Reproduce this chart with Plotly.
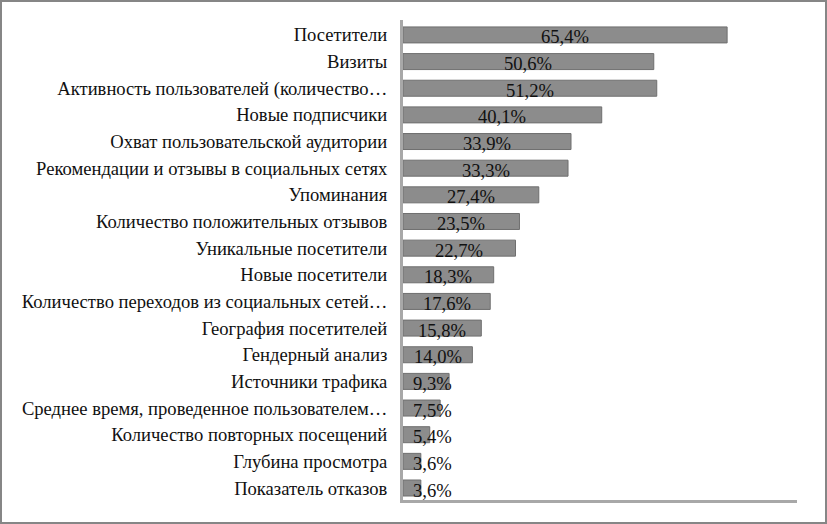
import plotly.graph_objects as go

# data, top to bottom
categories = [
    "Посетители",
    "Визиты",
    "Активность пользователей (количество…",
    "Новые подписчики",
    "Охват пользовательской аудитории",
    "Рекомендации и отзывы в социальных сетях",
    "Упоминания",
    "Количество положительных отзывов",
    "Уникальные посетители",
    "Новые посетители",
    "Количество переходов из социальных сетей…",
    "География посетителей",
    "Гендерный анализ",
    "Источники трафика",
    "Среднее время, проведенное пользователем…",
    "Количество повторных посещений",
    "Глубина просмотра",
    "Показатель отказов",
]
shares = [65.4, 50.6, 51.2, 40.1, 33.9, 33.3, 27.4, 23.5, 22.7, 18.3,
          17.6, 15.8, 14.0, 9.3, 7.5, 5.4, 3.6, 3.6]
share_labels = ["65,4%", "50,6%", "51,2%", "40,1%", "33,9%", "33,3%", "27,4%",
                "23,5%", "22,7%", "18,3%", "17,6%", "15,8%", "14,0%", "9,3%",
                "7,5%", "5,4%", "3,6%", "3,6%"]

FONT = "Liberation Serif, 'Times New Roman', 'DejaVu Serif', serif"
W, H = 827, 524
L, R, T, B = 403, 30, 20, 24

ypos = list(range(len(categories)))

fig = go.Figure()
fig.add_trace(go.Bar(
    x=shares,
    y=ypos,
    orientation="h",
    width=0.6,
    marker=dict(color="#8c8c8c", line=dict(color="#6f6f6f", width=1)),
    hoverinfo="skip",
))

# value labels: centred in the bar, but kept clear of the axis for short bars
for i, (v, lab) in enumerate(zip(shares, share_labels)):
    fig.add_annotation(
        x=max(v / 2, 6.0), y=i, text=lab, showarrow=False,
        xref="x", yref="y", yshift=-2,
        font=dict(family=FONT, size=18.6, color="#111111"),
    )

fig.update_xaxes(
    range=[0, 79.5], showgrid=False, showticklabels=False, zeroline=False,
    showline=True, linecolor="#a8a8a8", linewidth=3, ticks="",
)
fig.update_yaxes(
    tickvals=ypos, ticktext=categories,
    range=[17.45, -0.56],
    showgrid=False, zeroline=False, showline=True, linecolor="#a8a8a8",
    linewidth=3, ticks="", ticklabelstandoff=9,
    tickfont=dict(family=FONT, size=18.6, color="#111111"),
)

# outer frame of the picture
fig.add_shape(
    type="rect", xref="paper", yref="paper",
    x0=-(L - 1) / (W - L - R), x1=1 + (R - 1) / (W - L - R),
    y0=-(B - 1) / (H - T - B), y1=1 + (T - 1) / (H - T - B),
    line=dict(color="#868686", width=2),
)

fig.update_layout(
    width=W, height=H,
    margin=dict(l=L, r=R, t=T, b=B, autoexpand=False),
    paper_bgcolor="white", plot_bgcolor="white",
    showlegend=False,
    font=dict(family=FONT),
)

# page body has a default 8px margin; drop it so the figure fills the window
fig.write_html("out.html", config={"displayModeBar": False},
               post_script="document.body.style.margin='0';")
